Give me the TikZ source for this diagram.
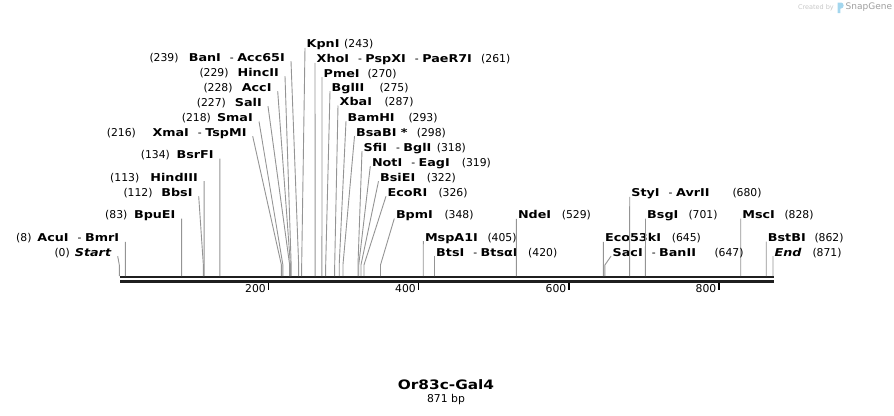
\documentclass[tikz,border=0pt]{standalone}
\usepackage{fontspec}
\setmainfont{DejaVu Sans}[BoldFeatures={FakeStretch=1.18},BoldItalicFeatures={FakeStretch=1.18}]
\definecolor{snapblue}{HTML}{A3D6EE}
\newcommand\enz[1]{\textbf{#1}}
\newcommand\isodash{\hspace{9pt}-\hspace{3.5pt}}
\tikzset{
  cut/.style = {draw=black!42, line width=.9pt},
  rlab/.style = {anchor=south west, inner xsep=1.5pt, inner ysep=0pt, text depth=0pt, font=\fontsize{10.8}{12}\selectfont},
  llab/.style = {rlab, anchor=south east, inner xsep=6pt},
  num/.style = {anchor=base west, inner sep=0pt, font=\fontsize{10.8}{12}\selectfont},
  backbone/.style = {draw=black!88, line width=2.6pt},
  tickmark/.style = {draw=black, line width=1.5pt}
}
\begin{document}
\begin{tikzpicture}[x = 1pt, y = -1pt]
\useasboundingbox (0,0) rectangle (894,415);
% sites on the backbone and knees above them
\foreach \p in {0,8,83,112,113,134,216,218,227,228,229,239,243,261,270,275,287,293,298,318,319,322,326,348,405,420,529,645,647,680,701,828,862,871} {
  \coordinate (s\p) at ({119.3+0.7505*\p},276);
  \coordinate (k\p) at ({119.3+0.7505*\p},265);
}
% backbone
\draw[backbone] (120,277) -- (774,277);
\draw[backbone] (120,281.3) -- (774,281.3);
\foreach \t/\x in {200/268.5, 400/418.5, 600/569, 800/719} {
  \draw[tickmark] (\x,282.5) -- (\x,289.5);
  \node[num, anchor=base east] (t\t) at (\x-2.5,292.6) {\t};
}
% labels, number first
\node[llab] (ban) at (291,61.2) {\enz{BanI}\isodash\enz{Acc65I}};
\node[llab] (hinc) at (285,76.2) {\enz{HincII}};
\node[llab] (acc) at (277.7,91.2) {\enz{AccI}};
\node[llab] (sal) at (268,106.2) {\enz{SalI}};
\node[llab] (sma) at (259,121.5) {\enz{SmaI}};
\node[llab] (xma) at (252.7,136.2) {\enz{XmaI}\isodash\enz{TspMI}};
\node[llab] (bsrf) at (219.9,158.5) {\enz{BsrFI}};
\node[llab] (hind) at (204.1,181.2) {\enz{HindIII}};
\node[llab] (bbs) at (198.7,196.2) {\enz{BbsI}};
\node[llab] (bpue) at (181.6,218.5) {\enz{BpuEI}};
\node[llab] (acu) at (125.3,241.8) {\enz{AcuI}\isodash\enz{BmrI}};
\node[llab] (start) at (117.7,256.2) {\textbf{\textit{Start}}};
\foreach \n/\p in {ban/239, hinc/229, acc/228, sal/227, sma/218, xma/216, bsrf/134, hind/113, bbs/112, bpue/83, acu/8, start/0}
  \draw[cut] (\n.south east) -- (k\p) -- (s\p);
% labels, name first
\node[rlab] (kpn) at (305,47.8) {\enz{KpnI}};
\node[rlab] (xho) at (315,62.8) {\enz{XhoI}\isodash\enz{PspXI}\isodash\enz{PaeR7I}};
\node[rlab] (pme) at (322,77.2) {\enz{PmeI}};
\node[rlab] (bglii) at (330,91.2) {\enz{BglII}};
\node[rlab] (xba) at (338,105.5) {\enz{XbaI}};
\node[rlab] (bam) at (346,121.2) {\enz{BamHI}};
\node[rlab] (bsab) at (354.5,136.2) {\enz{BsaBI *}};
\node[rlab] (sfi) at (362,151.2) {\enz{SfiI}\isodash\enz{BglI}};
\node[rlab] (not) at (370.3,166.2) {\enz{NotI}\isodash\enz{EagI}};
\node[rlab] (bsie) at (378.5,181.2) {\enz{BsiEI}};
\node[rlab] (eco) at (386,196.2) {\enz{EcoRI}};
\node[rlab] (bpm) at (394.3,218.5) {\enz{BpmI}};
\node[rlab] (msp) at (423.3,241.2) {\enz{MspA1I}};
\node[rlab] (bts) at (434.5,256.2) {\enz{BtsI}\isodash\enz{BtsαI}};
\node[rlab] (nde) at (516.3,218.8) {\enz{NdeI}};
\node[rlab] (sty) at (629.7,196.8) {\enz{StyI}\isodash\enz{AvrII}};
\node[rlab] (bsg) at (645.5,218.5) {\enz{BsgI}};
\node[rlab] (ecok) at (603.4,241.8) {\enz{Eco53kI}};
\node[rlab] (sac) at (611,256.2) {\enz{SacI}\isodash\enz{BanII}};
\node[rlab] (msc) at (740.7,218.5) {\enz{MscI}};
\node[rlab] (bstb) at (766.2,241.5) {\enz{BstBI}};
\node[rlab] (endp) at (773,256.2) {\textbf{\textit{End}}};
\foreach \n/\p in {kpn/243, xho/261, pme/270, bglii/275, xba/287, bam/293, bsab/298, sfi/318, not/319, bsie/322, eco/326, bpm/348, msp/405, bts/420, nde/529, sty/680, bsg/701, ecok/645, sac/647, msc/828, bstb/862, endp/871}
  \draw[cut] (\n.south west) -- (k\p) -- (s\p);
% positions in bp
\foreach \p/\x/\y in {239/149.3/61.2, 229/199.3/76.2, 228/203.3/91.2, 227/196.7/106.2, 218/181.7/121.5, 216/106.7/136.2, 134/140.7/158.5, 113/110/181.2, 112/123.3/196.2, 83/105/218.5, 8/16/241.8, 0/54.3/256.2,
  243/344/47.8, 261/481/62.8, 270/367.3/77.2, 275/379.3/91.2, 287/384.3/105.5, 293/408.3/121.2, 298/416.7/136.2, 318/436.7/151.2, 319/461.7/166.2, 322/426.7/181.2, 326/438.3/196.2, 348/444.3/218.5, 405/487.3/241.2, 420/528/256.2,
  529/561.7/218.8, 680/732.3/196.8, 701/688.3/218.5, 645/671.7/241.8, 647/714.3/256.2, 828/784.3/218.5, 862/814.3/241.5, 871/812.3/256.2}
  \node[num] (n\p) at (\x,\y) {(\p)};
% title
\node[font=\bfseries\fontsize{13}{15}\selectfont, inner sep=0pt] (title) at (446,384.3) {Or83c-Gal4};
\node[font=\fontsize{10.8}{12}\selectfont, inner sep=0pt] (len) at (446,399.5) {871 bp};
% watermark
\node[anchor=east, inner sep=0pt, text=black!22, font=\fontsize{6.5}{7}\selectfont] (made) at (834,7.5) {Created by};
\fill[snapblue] (837.5,2.5) -- (841,2.5) .. controls (844.5,2.5) and (844.5,8.5) .. (841,8.5) -- (840.3,8.5) -- (840.3,13) -- (837.5,13) -- cycle;
\node[anchor=west, inner sep=0pt, text=black!38, font=\fontsize{9}{10}\selectfont] (snap) at (845.5,7.5) {SnapGene};
\end{tikzpicture}
\end{document}
